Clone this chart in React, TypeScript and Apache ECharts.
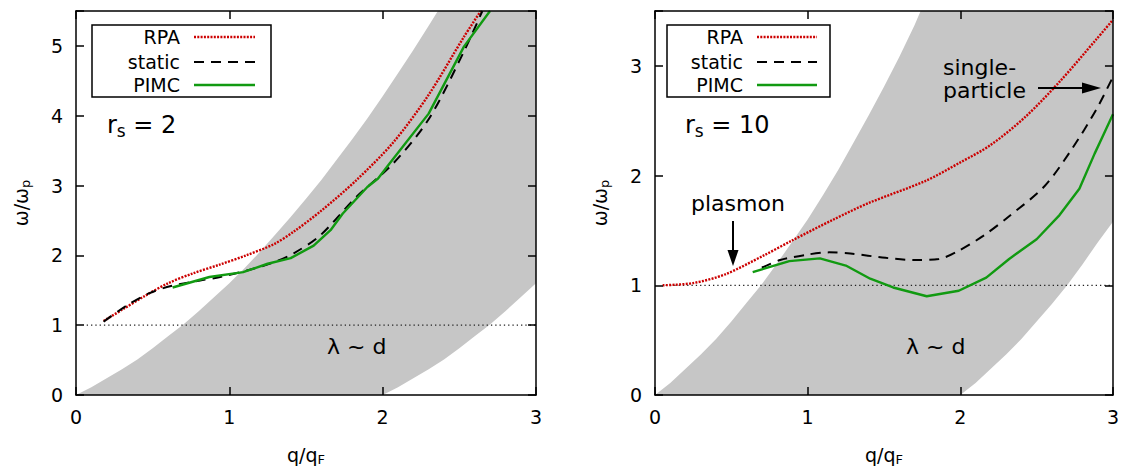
import React, { useEffect, useRef } from 'react';
import * as echarts from 'echarts';

// ---- data ----
const xTickValues = [0, 1, 2, 3];

// particle-hole continuum (grey band) boundaries, left panel (r_s = 2)
const bandUpperL = [[0, 0], [0.1, 0.11], [0.2, 0.24], [0.3, 0.37], [0.4, 0.51], [0.5, 0.67], [0.6, 0.84], [0.7, 1.01], [0.8, 1.2], [0.9, 1.4], [1, 1.6], [1.1, 1.82], [1.2, 2.05], [1.3, 2.3], [1.4, 2.55], [1.5, 2.81], [1.6, 3.08], [1.7, 3.37], [1.8, 3.66], [1.9, 3.96], [2, 4.28], [2.1, 4.61], [2.2, 4.94], [2.3, 5.29], [2.36, 5.5], [3, 5.5]];
const bandLowerL = [[3, 1.6], [2.9, 1.4], [2.8, 1.2], [2.7, 1.01], [2.6, 0.84], [2.5, 0.67], [2.4, 0.51], [2.3, 0.37], [2.2, 0.24], [2.1, 0.11], [2, 0]];
// right panel (r_s = 10)
const bandUpperR = [[0, 0], [0.1, 0.11], [0.2, 0.24], [0.3, 0.37], [0.4, 0.51], [0.5, 0.67], [0.6, 0.84], [0.7, 1.01], [0.8, 1.2], [0.9, 1.4], [1, 1.6], [1.1, 1.82], [1.2, 2.05], [1.3, 2.3], [1.4, 2.55], [1.5, 2.81], [1.6, 3.08], [1.7, 3.37], [1.74, 3.5], [3, 3.5]];
const bandLowerR = [[3, 1.58], [2.9, 1.39], [2.8, 1.19], [2.7, 1.0], [2.6, 0.83], [2.5, 0.67], [2.4, 0.51], [2.3, 0.37], [2.2, 0.24], [2.1, 0.11], [2, 0]];

const plasmaLine = [[0.07, 1], [3, 1]];

// r_s = 2
const rpaL = [[0.18, 1.06], [0.3, 1.22], [0.45, 1.42], [0.6, 1.6], [0.76, 1.74], [0.94, 1.87], [1.11, 2.0], [1.29, 2.16], [1.42, 2.34], [1.6, 2.64], [1.83, 3.08], [2.07, 3.62], [2.3, 4.3], [2.53, 5.13], [2.64, 5.5]];
const staticL = [[0.18, 1.05], [0.33, 1.28], [0.48, 1.46], [0.62, 1.56], [0.81, 1.64], [0.94, 1.69], [1.11, 1.78], [1.29, 1.9], [1.42, 2.03], [1.59, 2.28], [1.83, 2.84], [2.07, 3.32], [2.3, 3.95], [2.53, 4.92], [2.65, 5.5]];
const pimcL = [[0.63, 1.54], [0.87, 1.69], [1.09, 1.76], [1.25, 1.88], [1.4, 1.96], [1.55, 2.14], [1.66, 2.36], [1.74, 2.6], [1.9, 2.98], [1.97, 3.1], [2.04, 3.3], [2.3, 4.03], [2.53, 4.99], [2.7, 5.5]];

// r_s = 10
const rpaR = [[0.05, 1.0], [0.25, 1.02], [0.46, 1.1], [0.71, 1.27], [0.9, 1.41], [1.17, 1.6], [1.4, 1.75], [1.77, 1.95], [2.0, 2.12], [2.2, 2.28], [2.43, 2.54], [2.66, 2.87], [2.89, 3.24], [3.0, 3.42]];
const staticR = [[0.7, 1.16], [0.82, 1.23], [1.0, 1.28], [1.14, 1.3], [1.28, 1.29], [1.51, 1.25], [1.71, 1.23], [1.86, 1.24], [1.97, 1.3], [2.15, 1.45], [2.32, 1.63], [2.55, 1.9], [2.73, 2.24], [2.89, 2.6], [3.0, 2.9]];
const pimcR = [[0.64, 1.12], [0.88, 1.22], [1.08, 1.245], [1.25, 1.18], [1.41, 1.06], [1.56, 0.98], [1.78, 0.9], [1.99, 0.95], [2.17, 1.07], [2.32, 1.24], [2.5, 1.42], [2.65, 1.64], [2.78, 1.88], [2.88, 2.2], [2.94, 2.38], [3.0, 2.56]];

const legendLabels = ['RPA', 'static', 'PIMC'];

const FONT = 'DejaVu Sans';
const RED = '#cc0000';
const GREEN = '#119a11';
const GREY = '#c6c6c6';
const RED_DASH = [2, 1.3];
const BLACK_DASH = [10, 7];

export default function App() {
  const ref = useRef<HTMLDivElement>(null);
  useEffect(() => {
    const chart = echarts.init(ref.current as HTMLDivElement, null, { renderer: 'svg' });

    const axisBase = (gridIndex: number, min: number, max: number) => ({
      type: 'value',
      gridIndex,
      min,
      max,
      interval: 1,
      z: 10,
      axisLine: { show: true, onZero: false, lineStyle: { color: '#000', width: 1.5 } },
      axisTick: { show: true, inside: true, length: 8, lineStyle: { color: '#000', width: 1.5 } },
      splitLine: { show: false },
    });
    const labelStyle = { color: '#000', fontSize: 19, fontFamily: FONT };
    const intFmt = (v: number) => (Number.isInteger(v) && v >= 0 ? String(v) : '');

    const xName = {
      name: '{a|q/q}{s|F}',
      nameLocation: 'middle',
      nameGap: 48,
      nameTextStyle: {
        rich: {
          a: { fontSize: 19, fontFamily: FONT, color: '#000' },
          s: { fontSize: 13, fontFamily: FONT, color: '#000', padding: [10, 0, 0, 0] },
        },
      },
    };
    const yName = {
      name: '{a|ω/ω}{s|p}',
      nameLocation: 'middle',
      nameRotate: 90,
      nameGap: 44,
      nameTextStyle: {
        rich: {
          a: { fontSize: 19, fontFamily: FONT, color: '#000' },
          s: { fontSize: 13, fontFamily: FONT, color: '#000', padding: [10, 0, 0, 0] },
        },
      },
    };

    const xAxes: any[] = [];
    const yAxes: any[] = [];
    [0, 1].forEach((g) => {
      xAxes.push({ ...axisBase(g, xTickValues[0], xTickValues[xTickValues.length - 1]), position: 'bottom', axisLabel: { ...labelStyle, margin: 12, formatter: intFmt }, ...xName });
      xAxes.push({ ...axisBase(g, xTickValues[0], xTickValues[xTickValues.length - 1]), position: 'top', axisLabel: { show: false } });
      const ymax = g === 0 ? 5.5 : 3.5;
      yAxes.push({ ...axisBase(g, 0, ymax), position: 'left', axisLabel: { ...labelStyle, margin: 13, formatter: intFmt }, ...yName });
      yAxes.push({ ...axisBase(g, 0, ymax), position: 'right', axisLabel: { show: false } });
    });

    const band = (g: number, upper: number[][], lower: number[][]) => ({
      type: 'custom',
      xAxisIndex: g * 2,
      yAxisIndex: g * 2,
      data: [[0, 0]],
      silent: true,
      z: 1,
      renderItem: (_p: any, api: any) => ({
        type: 'polygon',
        shape: { points: upper.concat(lower).map((pt) => api.coord(pt)) },
        style: { fill: GREY },
      }),
    });
    const line = (g: number, data: number[][], color: string, type: any, width: number, smooth: number | boolean, z = 3) => ({
      type: 'line',
      xAxisIndex: g * 2,
      yAxisIndex: g * 2,
      data,
      smooth,
      showSymbol: false,
      symbol: 'none',
      silent: true,
      z,
      lineStyle: { color, type, width, cap: 'butt' },
    });

    const series: any[] = [
      band(0, bandUpperL, bandLowerL),
      line(0, plasmaLine, '#222', [1.3, 3], 1.2, false, 2),
      line(0, rpaL, RED, RED_DASH, 2.4, 0.3),
      line(0, staticL, '#000', BLACK_DASH, 2, 0.3),
      line(0, pimcL, GREEN, 'solid', 2.4, false),
      band(1, bandUpperR, bandLowerR),
      line(1, plasmaLine, '#222', [1.3, 3], 1.2, false, 2),
      line(1, rpaR, RED, RED_DASH, 2.4, 0.3),
      line(1, staticR, '#000', BLACK_DASH, 2, 0.3),
      line(1, pimcR, GREEN, 'solid', 2.4, false),
    ];

    const txt = (x: number, y: number, text: string, size: number, align = 'left', rich?: any) => ({
      type: 'text',
      x,
      y,
      z: 20,
      style: {
        text,
        fontSize: size,
        fontFamily: FONT,
        fill: '#000',
        align,
        textAlign: align,
        verticalAlign: 'middle',
        textVerticalAlign: 'middle',
        rich,
      },
    });
    const seg = (x1: number, y1: number, x2: number, y2: number, stroke: string, lineWidth: number, lineDash?: number[]) => ({
      type: 'line',
      z: 20,
      shape: { x1, y1, x2, y2 },
      style: { stroke, lineWidth, lineDash, lineCap: 'butt' },
    });

    const legend = (bx: number, bw: number, tx: number, lx1: number, lx2: number) => [
      { type: 'rect', z: 19, shape: { x: bx, y: 25, width: bw, height: 72 }, style: { fill: '#fff', stroke: '#000', lineWidth: 1.5 } },
      txt(tx, 37, legendLabels[0], 19, 'right'),
      txt(tx, 62, legendLabels[1], 19, 'right'),
      txt(tx, 85, legendLabels[2], 19, 'right'),
      seg(lx1, 37, lx2, 37, RED, 2.4, RED_DASH),
      seg(lx1, 62, lx2, 62, '#000', 2, BLACK_DASH),
      seg(lx1, 85, lx2, 85, GREEN, 2.4),
    ];

    const rsRich = {
      m: { fontSize: 24, fontFamily: FONT, color: '#000' },
      s: { fontSize: 17, fontFamily: FONT, color: '#000', padding: [12, 0, 0, 0] },
    };

    const graphic: any[] = [
      ...legend(92, 179, 180, 194, 255),
      ...legend(667, 163, 743, 757, 817),
      txt(107, 125, '{m|r}{s|s}{m| = 2}', 24, 'left', rsRich),
      txt(685, 125, '{m|r}{s|s}{m| = 10}', 24, 'left', rsRich),
      txt(327, 346, 'λ ~ d', 22),
      txt(906, 346, 'λ ~ d', 22),
      txt(691, 203, 'plasmon', 22),
      seg(733, 221, 733, 252, '#000', 2),
      { type: 'polygon', z: 20, shape: { points: [[727.5, 250], [738.5, 250], [733, 266]] }, style: { fill: '#000' } },
      txt(943, 67, 'single-', 22),
      txt(943, 90, 'particle', 22),
      seg(1038, 88, 1084, 88, '#000', 2),
      { type: 'polygon', z: 20, shape: { points: [[1082, 82.5], [1082, 93.5], [1101, 88]] }, style: { fill: '#000' } },
    ];

    chart.setOption({
      animation: false,
      backgroundColor: '#fff',
      textStyle: { fontFamily: FONT },
      grid: [
        { left: 76, top: 11, width: 460, height: 385 },
        { left: 655, top: 11, width: 459, height: 385 },
      ],
      xAxis: xAxes,
      yAxis: yAxes,
      series,
      graphic,
    });
    return () => chart.dispose();
  }, []);
  return <div ref={ref} style={{ position: 'absolute', left: 0, top: 0, width: 1122, height: 471 }} />;
}
